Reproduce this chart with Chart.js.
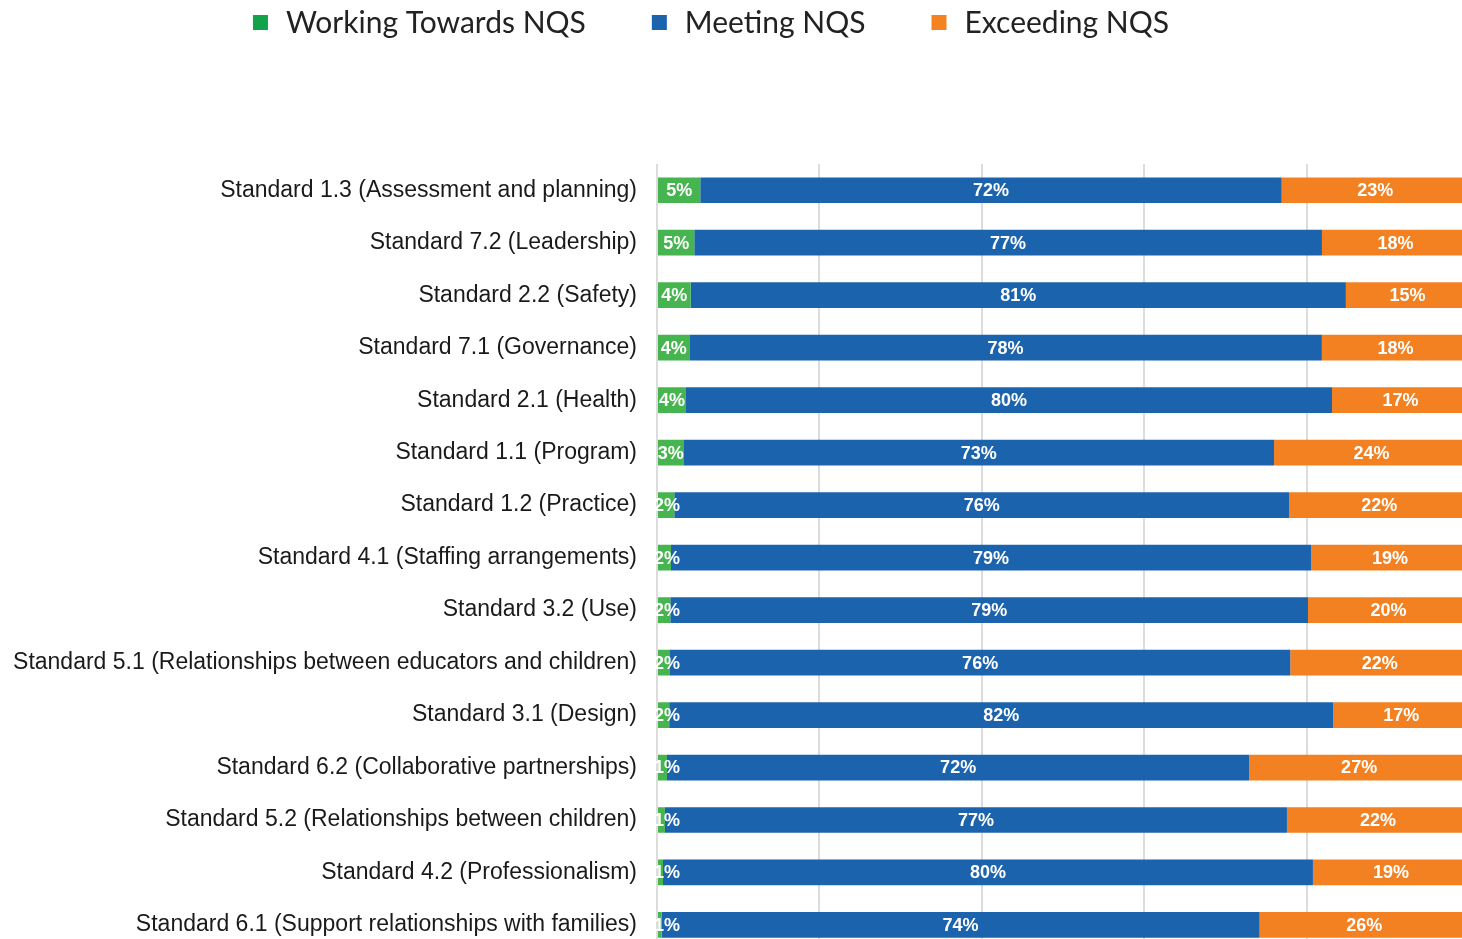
<!DOCTYPE html>
<html>
<head>
<meta charset="utf-8">
<script src="https://cdn.jsdelivr.net/npm/chart.js@4.4.0/dist/chart.umd.min.js"></script>
<style>
  html, body { margin: 0; padding: 0; background: #fff; overflow: hidden; }
  canvas { display: block; }
</style>
</head>
<body>
<canvas id="myChart" width="1469" height="985"></canvas>
<script>
'use strict';

const standards = [
  'Standard 1.3 (Assessment and planning)',
  'Standard 7.2 (Leadership)',
  'Standard 2.2 (Safety)',
  'Standard 7.1 (Governance)',
  'Standard 2.1 (Health)',
  'Standard 1.1 (Program)',
  'Standard 1.2 (Practice)',
  'Standard 4.1 (Staffing arrangements)',
  'Standard 3.2 (Use)',
  'Standard 5.1 (Relationships between educators and children)',
  'Standard 3.1 (Design)',
  'Standard 6.2 (Collaborative partnerships)',
  'Standard 5.2 (Relationships between children)',
  'Standard 4.2 (Professionalism)',
  'Standard 6.1 (Support relationships with families)'
];

const workingTowards = [5.33, 4.59, 4.14, 3.98, 3.57, 3.24, 2.13, 1.72, 1.64, 1.6, 1.5, 1.23, 0.98, 0.74, 0.57];
const meeting = [71.6, 77.3, 80.7, 77.9, 79.56, 72.75, 75.74, 78.82, 78.53, 76.39, 81.79, 71.71, 76.6, 80.04, 73.64];
const exceeding = [23.07, 18.11, 15.16, 18.12, 16.87, 24.01, 22.13, 19.46, 19.83, 22.01, 16.71, 27.06, 22.42, 19.22, 25.79];

const seriesNames = ['Working Towards NQS', 'Meeting NQS', 'Exceeding NQS'];
const barColors = ['#47b54f', '#1c63ae', '#f38122'];
const legendColors = ['#12a34a', '#1c63ae', '#f58220'];

// white % labels inside each segment
const barLabels = {
  id: 'barLabels',
  afterDatasetsDraw(chart) {
    const { ctx, chartArea } = chart;
    ctx.save();
    ctx.beginPath();
    ctx.rect(chartArea.left - 3, chartArea.top, chartArea.right - chartArea.left + 3, chartArea.bottom - chartArea.top);
    ctx.clip();
    ctx.font = 'bold 18px "Liberation Sans", Arial, sans-serif';
    ctx.fillStyle = '#fff';
    ctx.textAlign = 'center';
    ctx.textBaseline = 'middle';
    chart.data.datasets.forEach((ds, i) => {
      chart.getDatasetMeta(i).data.forEach((bar, j) => {
        const txt = Math.round(ds.data[j]) + '%';
        const w = ctx.measureText(txt).width;
        // thin slivers: keep the text from running off the left edge
        const x = Math.max((bar.x + bar.base) / 2, chartArea.left + w / 2 - 3);
        ctx.fillText(txt, x, bar.y + 1);
      });
    });
    ctx.restore();
  }
};

// legend row across the top
const topLegend = {
  id: 'topLegend',
  afterDraw(chart) {
    const ctx = chart.ctx;
    const box = 15, gapText = 18, gapItem = 66;
    const names = chart.data.datasets.map(d => d.label);
    ctx.save();
    ctx.font = '30px Lato, "Noto Sans", sans-serif';
    const widths = names.map(n => box + gapText + ctx.measureText(n).width);
    const total = widths.reduce((a, b) => a + b, 0) + gapItem * (widths.length - 1);
    let x = 711 - total / 2;
    const y = 22;
    ctx.textBaseline = 'middle';
    names.forEach((n, i) => {
      ctx.fillStyle = legendColors[i];
      ctx.fillRect(x, y - 7, box, box);
      ctx.fillStyle = '#222';
      ctx.fillText(n, x + box + gapText, y + 1);
      x += widths[i] + gapItem;
    });
    ctx.restore();
  }
};

const ctx = document.getElementById('myChart');

new Chart(ctx, {
  type: 'bar',
  data: {
    labels: standards,
    datasets: [
      { label: seriesNames[0], data: workingTowards, backgroundColor: barColors[0] },
      { label: seriesNames[1], data: meeting, backgroundColor: barColors[1] },
      { label: seriesNames[2], data: exceeding, backgroundColor: barColors[2] }
    ]
  },
  options: {
    indexAxis: 'y',
    responsive: false,
    animation: false,
    barPercentage: 1,
    categoryPercentage: 0.49,
    layout: { padding: { top: 164, left: 0, right: 0, bottom: 0 } },
    plugins: {
      legend: { display: false },
      tooltip: { enabled: false }
    },
    scales: {
      x: {
        stacked: true,
        min: 0,
        max: 100,
        ticks: { display: false, stepSize: 20 },
        grid: { color: '#dcdcdc', lineWidth: 2, drawTicks: false },
        border: { display: false }
      },
      y: {
        stacked: true,
        grid: { display: false, drawTicks: false },
        border: { display: false },
        ticks: {
          padding: 20,
          color: '#1a1a1a',
          font: { family: '"Liberation Sans", Arial, sans-serif', size: 23 }
        },
        afterFit(scale) { scale.width = 657; }
      }
    }
  },
  plugins: [barLabels, topLegend]
});
</script>
</body>
</html>
